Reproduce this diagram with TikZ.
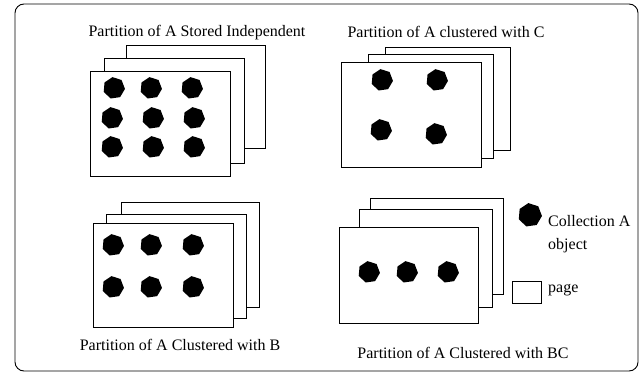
\documentclass[tikz,border=0pt]{standalone}
\usepackage{fontspec}
\setmainfont{Liberation Serif}
\usetikzlibrary{shapes.geometric}
\begin{document}
\begin{tikzpicture}[x=1pt,y=-1pt,
  pagebox/.style={draw=black,fill=white,line width=0.9pt},
  obj/.style={regular polygon,regular polygon sides=7,fill=black,draw=none,minimum size=22pt,inner sep=0pt,rotate=8},
  lbl/.style={font=\fontsize{16}{18}\selectfont,inner sep=0pt},
  frame/.style={draw=black,line width=0.9pt,rounded corners=9pt}]
\useasboundingbox (0,0) rectangle (642,374);
\draw[frame] (15,4) rectangle (638,371);

% top-left
\node[lbl] (t1) at (197,33) {Partition of A Stored Independent};
\draw[pagebox] (126,45) rectangle (265,148);
\draw[pagebox] (104,58) rectangle (244,163);
\draw[pagebox] (90,71) rectangle (230,176);
\foreach \x/\y [count=\i] in {114/88,151/88,192/88,112/118,153/118,194/118,112/147,153/147,194/147}
  \node[obj] (a\i) at (\x,\y) {};

% top-right
\node[lbl] (t2) at (446,32) {Partition of A clustered with C};
\draw[pagebox] (385,47) rectangle (510,150);
\draw[pagebox] (368,54) rectangle (493,158);
\draw[pagebox] (341,62) rectangle (481,167);
\foreach \x/\y [count=\i] in {382/80,437/80,381/130,436/134}
  \node[obj] (c\i) at (\x,\y) {};

% bottom-left
\draw[pagebox] (121,202) rectangle (259,307);
\draw[pagebox] (106,214) rectangle (246,318);
\draw[pagebox] (93,223) rectangle (233,327);
\foreach \x/\y [count=\i] in {113/245,151/245,193/245,113/287,151/287,193/287}
  \node[obj] (b\i) at (\x,\y) {};
\node[lbl] (t3) at (180,345) {Partition of A Clustered with B};

% bottom-right
\draw[pagebox] (370,198) rectangle (503,294);
\draw[pagebox] (359,209) rectangle (492,307);
\draw[pagebox] (339,227) rectangle (478,323);
\foreach \x/\y [count=\i] in {369/272,407/272,448/272}
  \node[obj] (d\i) at (\x,\y) {};
\node[lbl] (t4) at (463,353) {Partition of A Clustered with BC};

% legend
\node[obj,minimum size=24pt] (legobj) at (530,215) {};
\node[lbl,anchor=west] (leg1) at (548,221) {Collection A};
\node[lbl,anchor=west] (leg2) at (548,246) {object};
\draw[pagebox] (512,281) rectangle (541,303);
\node[lbl,anchor=west] (leg3) at (548,290) {page};
\end{tikzpicture}
\end{document}
